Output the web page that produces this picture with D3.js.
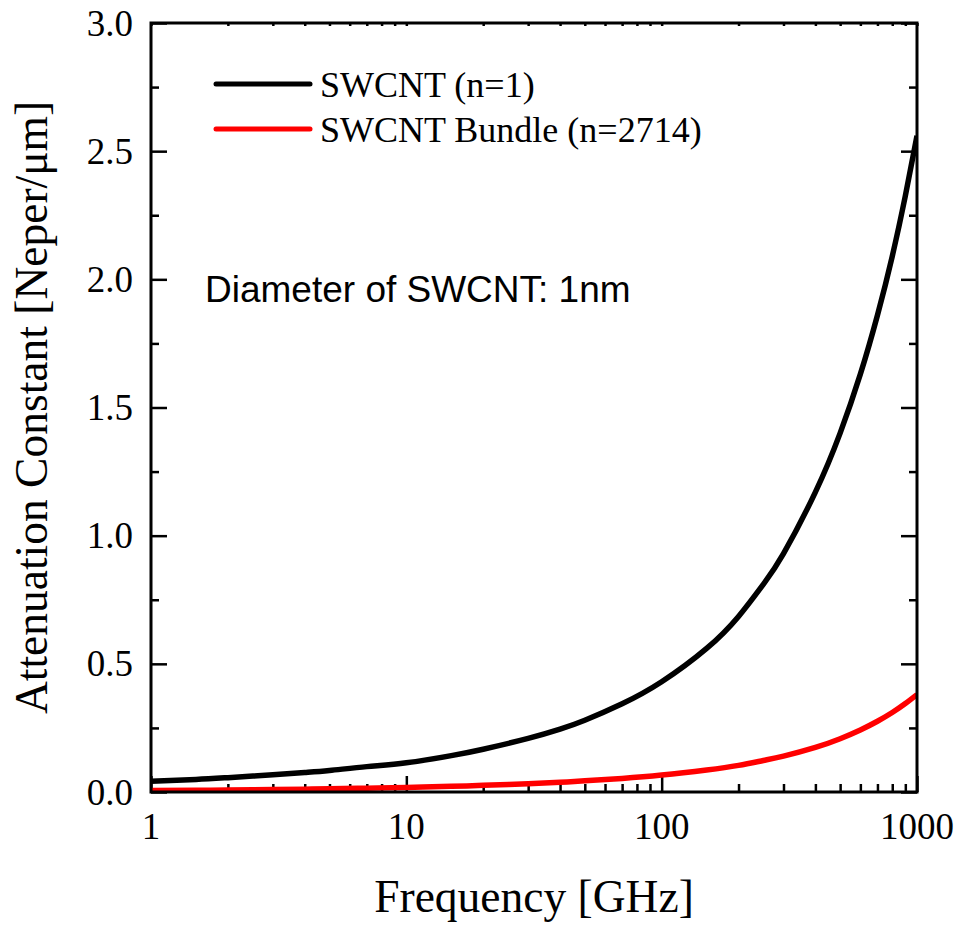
<!DOCTYPE html>
<html>
<head>
<meta charset="utf-8">
<script src="https://cdn.jsdelivr.net/npm/d3@7"></script>
<style>
  body { margin: 0; background: #fff; }
  svg { display: block; }
</style>
</head>
<body>
<svg id="chart" width="961" height="926"></svg>
<script>
// ---- data ----
const freqGHz = [1, 1.5, 2, 3, 4, 5, 7, 10, 15, 20, 30, 40, 50, 70, 100, 150, 200, 250, 300, 400, 500, 600, 700, 800, 900, 1000];
const swcntSingle = [0.042, 0.049, 0.056, 0.067, 0.076, 0.084, 0.099, 0.114, 0.142, 0.167, 0.209, 0.245, 0.280, 0.344, 0.430, 0.560, 0.685, 0.810, 0.930, 1.170, 1.400, 1.630, 1.860, 2.090, 2.325, 2.560];
const swcntBundle = [0.0055, 0.0067, 0.0078, 0.0095, 0.011, 0.0125, 0.015, 0.018, 0.022, 0.026, 0.0325, 0.038, 0.0435, 0.053, 0.066, 0.086, 0.104, 0.123, 0.140, 0.174, 0.208, 0.242, 0.276, 0.310, 0.345, 0.380];
const seriesNames = ["SWCNT (n=1)", "SWCNT Bundle (n=2714)"];
const seriesColors = ["#000000", "#ff0000"];
const xTickValues = [1, 10, 100, 1000];
const xTickLabels = ["1", "10", "100", "1000"];
const yTickValues = [0, 0.5, 1.0, 1.5, 2.0, 2.5, 3.0];
const yTickLabels = ["0.0", "0.5", "1.0", "1.5", "2.0", "2.5", "3.0"];
const annotation = "Diameter of SWCNT: 1nm";
const xTitle = "Frequency [GHz]";
const yTitle = "Attenuation Constant [Neper/\u03bcm]";

// ---- layout ----
const L = 151, R = 917, T = 23, B = 792;
const svg = d3.select("#chart");
const x = d3.scaleLog().domain([1, 1000]).range([L, R]);
const y = d3.scaleLinear().domain([0, 3]).range([B, T]);

const serif = "'Liberation Serif','Times New Roman',serif";
const sans = "'Liberation Sans',Arial,sans-serif";

// clip
svg.append("defs").append("clipPath").attr("id", "clip")
  .append("rect").attr("x", L).attr("y", T).attr("width", R - L).attr("height", B - T);

// minor ticks
const xMinor = [];
for (let d = 1; d < 1000; d *= 10) for (let k = 2; k <= 9; k++) xMinor.push(d * k);
const yMinor = d3.range(0.25, 3, 0.5);

const bottomAxis = d3.axisBottom(x).tickValues(xTickValues).tickSize(-16).tickFormat("");
const gB = svg.append("g").attr("transform", `translate(0,${B})`).call(bottomAxis);
const bottomMinor = d3.axisBottom(x).tickValues(xMinor).tickSize(-8).tickFormat("");
const gBm = svg.append("g").attr("transform", `translate(0,${B})`).call(bottomMinor);
const topAxis = d3.axisTop(x).tickValues(xMinor.concat(xTickValues)).tickSize(-3).tickFormat("");
const gT = svg.append("g").attr("transform", `translate(0,${T})`).call(topAxis);
const leftAxis = d3.axisLeft(y).tickValues(yTickValues).tickSize(-16).tickFormat("");
const gL = svg.append("g").attr("transform", `translate(${L},0)`).call(leftAxis);
const leftMinor = d3.axisLeft(y).tickValues(yMinor).tickSize(-8).tickFormat("");
const gLm = svg.append("g").attr("transform", `translate(${L},0)`).call(leftMinor);
const rightAxis = d3.axisRight(y).tickValues(yTickValues).tickSize(-16).tickFormat("");
const gR = svg.append("g").attr("transform", `translate(${R},0)`).call(rightAxis);
const rightMinor = d3.axisRight(y).tickValues(yMinor).tickSize(-8).tickFormat("");
const gRm = svg.append("g").attr("transform", `translate(${R},0)`).call(rightMinor);
[gB, gBm, gT, gL, gLm, gR, gRm].forEach(g => {
  g.select(".domain").remove();
  g.selectAll(".tick line").attr("stroke", "#000").attr("stroke-width", 2.5);
});

// tick labels
svg.append("g").selectAll("text").data(xTickValues).join("text")
  .attr("x", d => x(d)).attr("y", 839)
  .attr("text-anchor", "middle")
  .attr("font-family", serif).attr("font-size", 37)
  .text((d, i) => xTickLabels[i]);
svg.append("g").selectAll("text").data(yTickValues).join("text")
  .attr("x", 133).attr("y", d => y(d) + 12.5)
  .attr("text-anchor", "end")
  .attr("font-family", serif).attr("font-size", 37)
  .text((d, i) => yTickLabels[i]);

// curves
const line = d3.line().x((d, i) => x(freqGHz[i])).y(d => y(d)).curve(d3.curveNatural);
const plotG = svg.append("g").attr("clip-path", "url(#clip)");
[[swcntBundle, seriesColors[1]], [swcntSingle, seriesColors[0]]].forEach(([s, c]) => {
  plotG.append("path").datum(s)
    .attr("d", line)
    .attr("fill", "none")
    .attr("stroke", c)
    .attr("stroke-width", 5.5);
});

// frame
svg.append("rect").attr("x", L).attr("y", T).attr("width", R - L).attr("height", B - T)
  .attr("fill", "none").attr("stroke", "#000").attr("stroke-width", 3);

// legend
const legY = [84, 129];
seriesNames.forEach((name, i) => {
  svg.append("line").attr("x1", 216).attr("x2", 310).attr("y1", legY[i]).attr("y2", legY[i])
    .attr("stroke", seriesColors[i]).attr("stroke-width", 5).attr("stroke-linecap", "round");
  svg.append("text").attr("x", 320).attr("y", legY[i] + 13)
    .attr("font-family", serif).attr("font-size", 36).attr("fill", "#000").text(name);
});

// annotation
svg.append("text").attr("x", 205).attr("y", 302)
  .attr("font-family", sans).attr("font-size", 37).attr("fill", "#000").text(annotation);

// axis titles
svg.append("text").attr("x", (L + R) / 2).attr("y", 912)
  .attr("text-anchor", "middle").attr("font-family", serif).attr("font-size", 45.5).text(xTitle);
svg.append("text").attr("transform", `translate(47,${(T + B) / 2}) rotate(-90)`)
  .attr("text-anchor", "middle").attr("font-family", serif).attr("font-size", 45.5).text(yTitle);
</script>
</body>
</html>
